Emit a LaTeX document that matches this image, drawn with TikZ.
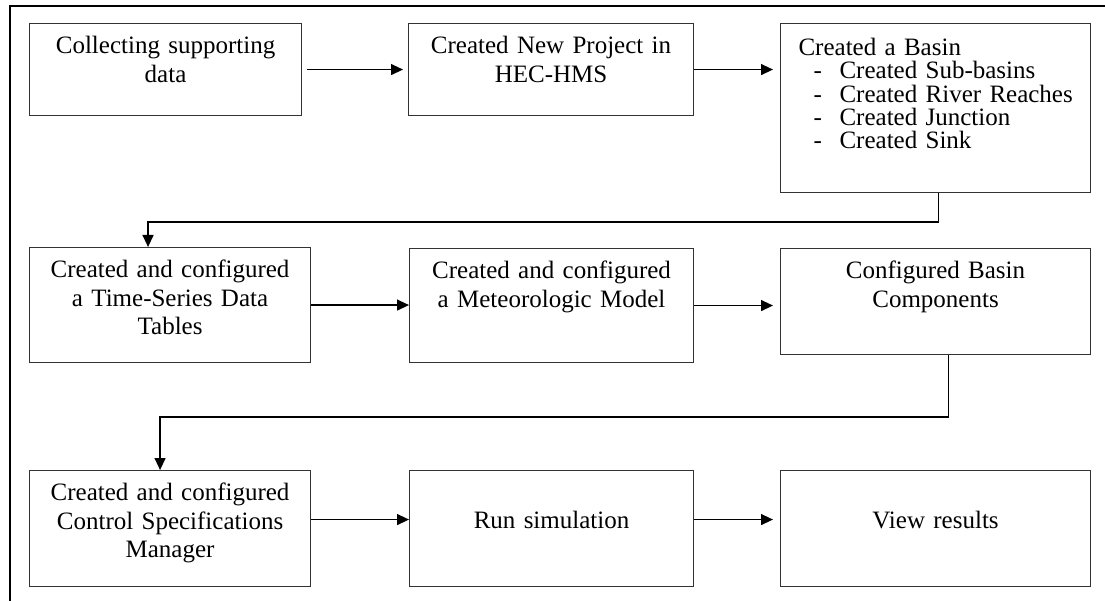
\documentclass[tikz,border=0pt]{standalone}
\usepackage{fontspec}
\setmainfont{Liberation Serif}
\usetikzlibrary{arrows.meta, positioning, calc}

\begin{document}
\begin{tikzpicture}[
    x=1pt, y=-1pt,
    every node/.style={font=\fontsize{25}{28.5}\selectfont},
    stepbox/.style={draw=black!80, line width=1.1pt, anchor=north west, align=center, inner xsep=0pt, inner ysep=0pt, text height=30pt},
    flow/.style={-{Triangle[length=12pt, width=11pt]}, line width=1.3pt}
]
    \useasboundingbox (0,0) rectangle (1105,601);
    % frame of the page, only its left and top edges show
    \draw[line width=2pt] (10,601) -- (10,6) -- (1105,6);

    \node[stepbox, text width=272pt, text depth=62pt] (collect) at (29,23) {Collecting supporting\\ data};
    \node[stepbox, text width=285pt, text depth=62pt] (project) at (408,23) {Created New Project in\\ HEC-HMS};
    \node[stepbox, align=left, inner xsep=9pt, text width=292pt, text height=32pt, text depth=137pt, font=\fontsize{25}{23.3}\selectfont] (basin) at (780,23) {\hspace*{9pt}Created a Basin\\
        \hspace*{24pt}\makebox[26pt][l]{-}Created Sub-basins\\
        \hspace*{24pt}\makebox[26pt][l]{-}Created River Reaches\\
        \hspace*{24pt}\makebox[26pt][l]{-}Created Junction\\
        \hspace*{24pt}\makebox[26pt][l]{-}Created Sink};

    \node[stepbox, text width=281pt, text depth=85pt] (tables) at (29,247) {Created and configured\\ a Time-Series Data\\ Tables};
    \node[stepbox, text width=284pt, text depth=84pt] (meteo) at (409,248) {Created and configured\\ a Meteorologic Model};
    \node[stepbox, text width=310pt, text depth=76pt] (comps) at (780,248) {Configured Basin\\ Components};

    \node[stepbox, text width=281pt, text depth=86pt] (control) at (29,470) {Created and configured\\ Control Specifications\\ Manager};
    \node[stepbox, text width=284pt, text height=58pt, text depth=58pt] (run) at (409,470) {Run simulation};
    \node[stepbox, text width=310pt, text height=58pt, text depth=58pt] (view) at (780,470) {View results};

    \draw[flow, shorten <=5pt, shorten >=5pt] (collect) -- (project);
    \draw[flow, shorten >=7pt] (project.east) -- (project.east -| basin.west);
    \draw[flow] ([xshift=3pt]basin.south) -- ++(0,29) -| ([xshift=-22pt]tables.north);

    \draw[flow] (tables.east) -- (tables.east -| meteo.west);
    \draw[flow, shorten >=7pt] (meteo.east) -- (meteo.east -| comps.west);
    \draw[flow] ([xshift=13pt]comps.south) -- ++(0,62) -| ([xshift=-10pt]control.north);

    \draw[flow] ([yshift=9pt]control.east) -- ([yshift=9pt]control.east -| run.west);
    \draw[flow, shorten >=7pt] ([yshift=9pt]run.east) -- ([yshift=9pt]run.east -| view.west);
\end{tikzpicture}
\end{document}
